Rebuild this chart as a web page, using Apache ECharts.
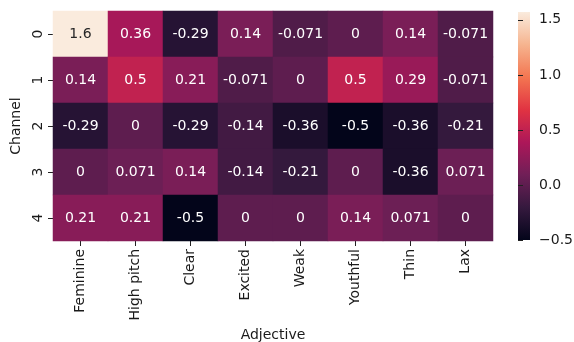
<!DOCTYPE html>
<html>
<head>
<meta charset="utf-8">
<script src="https://cdn.jsdelivr.net/npm/echarts@6/dist/echarts.min.js"></script>
<style>
  html, body { margin: 0; padding: 0; background: #fff; }
  #chart { width: 574px; height: 342px; }
</style>
</head>
<body>
<div id="chart"></div>
<script>
// Adjectives along x, channels along y
const adjectives = ['Feminine', 'High pitch', 'Clear', 'Excited', 'Weak', 'Youthful', 'Thin', 'Lax'];
const channels = ['0', '1', '2', '3', '4'];

// One row of scores per channel
const channel0 = [1.6, 0.36, -0.29, 0.14, -0.071, 0, 0.14, -0.071];
const channel1 = [0.14, 0.5, 0.21, -0.071, 0, 0.5, 0.29, -0.071];
const channel2 = [-0.29, 0, -0.29, -0.14, -0.36, -0.5, -0.36, -0.21];
const channel3 = [0, 0.071, 0.14, -0.14, -0.21, 0, -0.36, 0.071];
const channel4 = [0.21, 0.21, -0.5, 0, 0, 0.14, 0.071, 0];

// Colour scale range and colour-bar ticks
const scaleMin = -0.5;
const scaleMax = 1.571;
const colorbarTicks = [-0.5, 0, 0.5, 1.0, 1.5];

// "rocket" palette stops
const rocket = ['#03051A', '#35193E', '#701F57', '#AD1759', '#E13342', '#F37651', '#F6B48F', '#FAEBDD'];

const rows = [channel0, channel1, channel2, channel3, channel4];
const cells = [];
rows.forEach((row, r) => {
  row.forEach((v, c) => {
    cells.push({
      value: [c, r, v],
      label: { color: v >= 1.2 ? '#262626' : '#ffffff' }
    });
  });
});

const FONT = 'DejaVu Sans';
const TXT = '#1a1a1a';

// Heatmap and colour-bar boxes (whole-pixel cells: 55 x 46)
const MAP = { left: 53, top: 11, width: 440, height: 230 };
const BAR = { left: 518, top: 12, width: 12, height: 228 };

const chart = echarts.init(document.getElementById('chart'), null, { renderer: 'canvas' });
chart.setOption({
  animation: false,
  backgroundColor: '#fff',
  textStyle: { fontFamily: FONT },
  grid: [
    Object.assign({ outerBoundsMode: 'none', containLabel: false }, MAP),
    Object.assign({ outerBoundsMode: 'none', containLabel: false }, BAR)
  ],
  xAxis: [
    {
      gridIndex: 0,
      type: 'category',
      data: adjectives,
      position: 'bottom',
      name: 'Adjective',
      nameLocation: 'middle',
      nameGap: 87,
      nameTextStyle: { fontFamily: FONT, fontSize: 14, color: TXT },
      axisLine: { show: false },
      axisTick: { show: true, alignWithLabel: true, length: 5, lineStyle: { color: '#222', width: 1 } },
      axisLabel: { rotate: 90, fontFamily: FONT, fontSize: 14, color: TXT, margin: 8 },
      splitLine: { show: false }
    },
    {
      gridIndex: 1,
      type: 'value',
      show: false
    }
  ],
  yAxis: [
    {
      gridIndex: 0,
      type: 'category',
      data: channels,
      inverse: true,
      name: 'Channel',
      nameLocation: 'middle',
      nameGap: 28,
      nameRotate: 90,
      nameTextStyle: { fontFamily: FONT, fontSize: 14, color: TXT },
      axisLine: { show: false },
      axisTick: { show: true, alignWithLabel: true, length: 5, lineStyle: { color: '#222', width: 1 } },
      axisLabel: { rotate: 90, fontFamily: FONT, fontSize: 14, color: TXT, margin: 8 },
      splitLine: { show: false }
    },
    {
      gridIndex: 1,
      type: 'value',
      position: 'right',
      min: scaleMin,
      max: scaleMax,
      axisLine: { show: false },
      splitLine: { show: false },
      axisTick: { show: true, length: 5, customValues: colorbarTicks, lineStyle: { color: '#222', width: 1 } },
      axisLabel: {
        customValues: colorbarTicks,
        fontFamily: FONT, fontSize: 14, color: TXT, margin: 9,
        formatter: v => v.toFixed(1).replace('-', '\u2212')
      }
    }
  ],
  visualMap: {
    type: 'continuous',
    show: false,
    seriesIndex: 0,
    min: scaleMin,
    max: scaleMax,
    inRange: { color: rocket }
  },
  // colour bar strip beside the heatmap
  graphic: [{
    type: 'rect',
    left: BAR.left,
    top: BAR.top,
    shape: { width: BAR.width, height: BAR.height },
    style: {
      fill: new echarts.graphic.LinearGradient(0, 1, 0, 0,
        rocket.map((c, i) => ({ offset: i / (rocket.length - 1), color: c })))
    },
    silent: true
  }],
  series: [{
    type: 'heatmap',
    xAxisIndex: 0,
    yAxisIndex: 0,
    data: cells,
    label: {
      show: true,
      fontFamily: FONT,
      fontSize: 14,
      formatter: p => String(p.value[2])
    },
    itemStyle: { borderWidth: 0 },
    emphasis: { disabled: true }
  }]
});
</script>
</body>
</html>
